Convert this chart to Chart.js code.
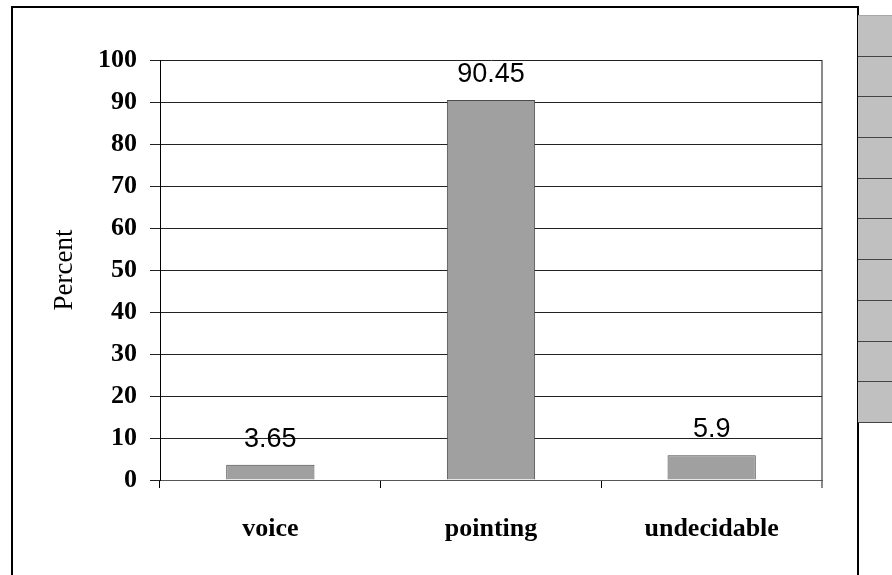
<!DOCTYPE html>
<html>
<head>
<meta charset="utf-8">
<script src="https://cdn.jsdelivr.net/npm/chart.js@4/dist/chart.umd.min.js"></script>
<style>
  html, body { margin: 0; padding: 0; background: #fff; overflow: hidden; }
  #wrap { position: relative; width: 892px; height: 575px; }
  #c { position: absolute; left: 0; top: 0; }
  #frame {
    position: absolute; left: 11px; top: 6px; width: 844px; height: 600px;
    border-left: 2px solid #000; border-top: 2px solid #000; border-right: 2px solid #000;
  }
  #side {
    position: absolute; left: 858px; top: 15px; width: 40px; height: 407px;
    background: #c0c0c0; border-top: 1px solid #a8a8a8;
  }
  #side div { height: 39.7px; border-bottom: 1px solid #444; }
</style>
</head>
<body>
<div id="wrap">
  <canvas id="c" width="892" height="575"></canvas>
  <div id="frame"></div>
  <div id="side"></div>
</div>
<script>
// Response categories and their share in percent
const categories = ['voice', 'pointing', 'undecidable'];
const percentValues = [3.65, 90.45, 5.9];
const yTicks = [0, 10, 20, 30, 40, 50, 60, 70, 80, 90, 100];

// Grey rows of the side table
const side = document.getElementById('side');
for (let i = 0; i < 10; i++) side.appendChild(document.createElement('div'));

// Writes each bar's value above it
const valueLabels = {
  id: 'valueLabels',
  afterDatasetsDraw(chart) {
    const ctx = chart.ctx;
    const meta = chart.getDatasetMeta(0);
    const data = chart.data.datasets[0].data;
    ctx.save();
    ctx.font = '27px "Liberation Sans", Arial, sans-serif';
    ctx.fillStyle = '#000';
    ctx.textAlign = 'center';
    ctx.textBaseline = 'alphabetic';
    meta.data.forEach((bar, i) => {
      ctx.fillText(String(data[i]), bar.x, bar.y - 18);
    });
    ctx.restore();
  }
};

const serifBold = { family: '"Liberation Serif", "Times New Roman", serif', size: 26, weight: 'bold' };

new Chart(document.getElementById('c'), {
  type: 'bar',
  data: {
    labels: categories,
    datasets: [{
      data: percentValues,
      backgroundColor: '#a0a0a0',
      borderColor: '#4a4a4a',
      borderWidth: 1,
      barPercentage: 0.4,
      categoryPercentage: 1.0
    }]
  },
  options: {
    responsive: false,
    animation: false,
    layout: { padding: { top: 60, right: 70, left: 0, bottom: 0 } },
    plugins: {
      legend: { display: false },
      tooltip: { enabled: false }
    },
    scales: {
      x: {
        afterFit(s) { s.height = 95; },
        border: { color: '#555', width: 1 },
        grid: {
          offset: true,
          color: (c) => c.type === 'scale' ? '#8a8a8a' : 'rgba(0,0,0,0)',
          lineWidth: (c) => c.type === 'scale' ? 2 : 1,
          tickColor: (c) => c.type === 'scale' ? '#8a8a8a' : '#000',
          tickWidth: (c) => c.type === 'scale' ? 2 : 1,
          tickLength: 8
        },
        ticks: { color: '#000', font: serifBold, padding: 26, maxRotation: 0 }
      },
      y: {
        min: 0,
        max: 100,
        afterFit(s) { s.width = 160; },
        afterBuildTicks(s) { s.ticks = yTicks.map(v => ({ value: v })); },
        border: { color: '#000', width: 1 },
        grid: { color: '#222', lineWidth: 1, tickColor: '#222', tickLength: 10 },
        ticks: { color: '#000', font: serifBold, padding: 13 },
        title: {
          display: true,
          text: 'Percent',
          color: '#000',
          font: { family: '"Liberation Serif", "Times New Roman", serif', size: 27, weight: 'normal' },
          padding: { top: 49, bottom: 0 }
        }
      }
    }
  },
  plugins: [valueLabels]
});
</script>
</body>
</html>
